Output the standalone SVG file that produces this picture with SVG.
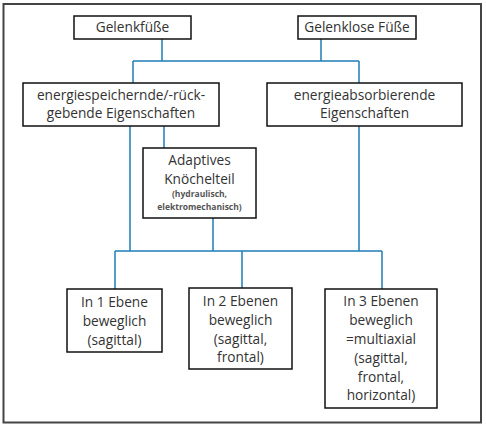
<svg xmlns="http://www.w3.org/2000/svg" width="486" height="427" viewBox="0 0 486 427">
<style>
.box{fill:#fff;stroke:#111;stroke-width:1.5}
.t{font-family:"Open Sans","Liberation Sans",sans-serif;font-size:13.7px;fill:#333;text-anchor:middle}
.s{font-family:"Open Sans","Liberation Sans",sans-serif;font-size:8.5px;font-weight:bold;fill:#555;text-anchor:middle}
.c{fill:none;stroke:#1f7fb8;stroke-width:1.5}
</style>
<rect x="0" y="0" width="486" height="427" fill="#fff"/>
<rect x="3.5" y="4" width="477.5" height="418.5" fill="none" stroke="#444" stroke-width="2"/>
<g id="connectors">
<path class="c" d="M162 39V61M321 39V61M133 61H359M133 61V83M359 61V83"/>
<path class="c" d="M130 126V251M164 126V148M213 218V251M359 126V251M115 251H382M115 251V289M242 251V288M382 251V289"/>
</g>
<g id="gelenkfuesse"><rect class="box" x="74" y="16" width="117" height="23"/><text class="t" x="132.5" y="32">Gelenkfüße</text></g>
<g id="gelenklose"><rect class="box" x="298" y="16" width="118" height="23"/><text class="t" x="357" y="32">Gelenklose Füße</text></g>
<g id="energiespeichernd"><rect class="box" x="23" y="83" width="196" height="43"/><text class="t" x="121" y="100">energiespeichernde/-rück-</text><text class="t" x="121" y="118">gebende Eigenschaften</text></g>
<g id="energieabsorbierend"><rect class="box" x="267" y="83" width="195" height="43"/><text class="t" x="364.5" y="100">energieabsorbierende</text><text class="t" x="364.5" y="118">Eigenschaften</text></g>
<g id="adaptiv"><rect class="box" x="143" y="148" width="113" height="70"/><text class="t" x="199.5" y="165">Adaptives</text><text class="t" x="199.5" y="184">Knöchelteil</text><text class="s" x="199.5" y="197">(hydraulisch,</text><text class="s" x="199.5" y="210">elektromechanisch)</text></g>
<g id="ebene1"><rect class="box" x="67" y="289" width="95" height="63"/><text class="t" x="114.5" y="307">In 1 Ebene</text><text class="t" x="114.5" y="326">beweglich</text><text class="t" x="114.5" y="345">(sagittal)</text></g>
<g id="ebene2"><rect class="box" x="189" y="288" width="103" height="81"/><text class="t" x="240.5" y="306">In 2 Ebenen</text><text class="t" x="240.5" y="325">beweglich</text><text class="t" x="240.5" y="344">(sagittal,</text><text class="t" x="240.5" y="362">frontal)</text></g>
<g id="ebene3"><rect class="box" x="325" y="289" width="112" height="119"/><text class="t" x="381" y="306">In 3 Ebenen</text><text class="t" x="381" y="325">beweglich</text><text class="t" x="381" y="344">=multiaxial</text><text class="t" x="381" y="363">(sagittal,</text><text class="t" x="381" y="382">frontal,</text><text class="t" x="381" y="400">horizontal)</text></g>
</svg>
